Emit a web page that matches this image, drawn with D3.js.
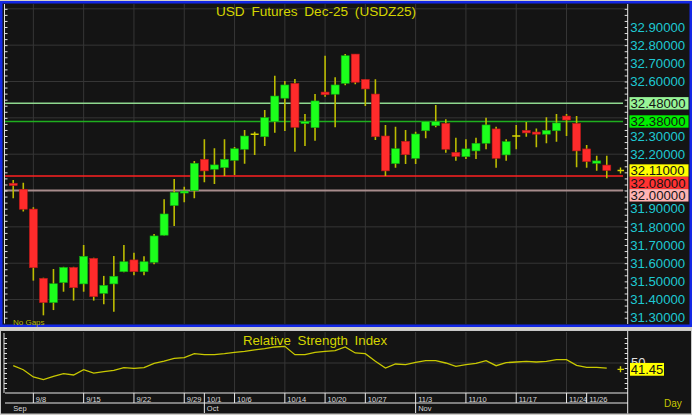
<!DOCTYPE html>
<html><head><meta charset="utf-8">
<script src="https://cdn.jsdelivr.net/npm/d3@7"></script>
<style>
html,body{margin:0;padding:0;background:#d4d0c8;}
svg{display:block;font-family:"Liberation Sans",Arial,sans-serif;}
</style></head><body>
<svg id="c" width="692" height="415"></svg>
<script>
// ---------------- DATA ----------------
const dates = ["9/4","9/5","9/8","9/9","9/10","9/11","9/12","9/15","9/16","9/17","9/18","9/19","9/22","9/23","9/24","9/25","9/26","9/29","9/30",
"10/1","10/2","10/3","10/6","10/7","10/8","10/9","10/10","10/14","10/15","10/16","10/17","10/20","10/21","10/22","10/23","10/27","10/28","10/29","10/30","10/31",
"11/3","11/4","11/5","11/6","11/7","11/10","11/11","11/12","11/13","11/14","11/17","11/18","11/19","11/20","11/21","11/24","11/25","11/26","11/27","11/28"];
const open  = [32.040,32.007,31.898,31.517,31.383,31.493,31.577,31.486,31.627,31.434,31.486,31.553,31.618,31.553,31.605,31.754,31.917,31.986,31.999,
32.172,32.117,32.126,32.166,32.227,32.310,32.296,32.379,32.508,32.590,32.368,32.346,32.542,32.530,32.590,32.751,32.612,32.531,32.300,32.148,32.271,
32.177,32.329,32.357,32.370,32.210,32.186,32.218,32.260,32.339,32.196,32.300,32.331,32.322,32.310,32.329,32.410,32.370,32.229,32.150,32.140];
const high  = [32.058,32.043,31.908,31.520,31.568,31.580,31.580,31.700,31.630,31.530,31.640,31.700,31.658,31.638,31.761,31.952,32.063,32.021,32.163,
32.282,32.232,32.282,32.240,32.333,32.324,32.443,32.632,32.603,32.614,32.421,32.531,32.742,32.623,32.751,32.752,32.612,32.612,32.361,32.351,32.333,
32.324,32.379,32.471,32.392,32.291,32.282,32.291,32.401,32.351,32.282,32.361,32.377,32.342,32.403,32.421,32.421,32.410,32.251,32.192,32.192];
const low   = [31.957,31.884,31.504,31.313,31.342,31.443,31.394,31.443,31.394,31.374,31.333,31.550,31.533,31.533,31.594,31.752,31.805,31.935,31.957,
32.045,32.036,32.080,32.085,32.148,32.196,32.245,32.318,32.328,32.214,32.245,32.274,32.516,32.348,32.579,32.585,32.465,32.278,32.080,32.126,32.146,
32.146,32.287,32.348,32.208,32.164,32.174,32.174,32.227,32.126,32.164,32.227,32.296,32.238,32.260,32.269,32.300,32.128,32.126,32.109,32.067];
const close = [32.027,31.897,31.575,31.383,31.487,31.577,31.465,31.638,31.416,31.478,31.528,31.608,31.553,31.608,31.750,31.871,31.990,31.997,32.150,
32.108,32.141,32.172,32.230,32.300,32.310,32.401,32.520,32.581,32.348,32.379,32.493,32.527,32.581,32.742,32.596,32.559,32.296,32.108,32.230,32.197,
32.311,32.379,32.379,32.227,32.188,32.229,32.260,32.361,32.177,32.269,32.300,32.317,32.310,32.331,32.372,32.388,32.218,32.159,32.163,32.110];
const rsi = [45.5,38.8,26.7,22.2,27.8,32.2,30.0,38.8,33.3,35.5,37.8,42.2,41.1,42.2,49.4,53.3,57.8,58.9,65.6,
63.9,63.9,65.6,67.8,69.4,71.7,73.9,76.7,77.8,63.9,63.9,67.8,69.4,70.6,76.7,66.7,65.6,52.8,41.7,48.3,47.2,
51.1,53.9,53.9,50.0,44.4,47.2,49.4,53.9,45.5,50.6,51.7,52.8,51.7,52.8,55.6,55.6,46.1,42.8,42.8,41.45];
const priceLabels = [32.9,32.8,32.7,32.6,32.5,32.4,32.3,32.2,32.1,32.0,31.9,31.8,31.7,31.6,31.5,31.4,31.3];
const priceGrid = [33.0,32.8,32.6,32.4,32.2,32.0,31.8,31.6,31.4];
const gridDates = ["9/8","9/15","9/22","9/29","10/6","10/14","10/20","10/27","11/3","11/10","11/17","11/24"];
const dateLabels = ["9/8","9/15","9/22","9/29","10/1","10/6","10/14","10/20","10/27","11/3","11/10","11/17","11/24","11/26"];
const monthStarts = ["9/4","10/1","11/3"];
const monthNames = ["Sep","Oct","Nov"];
const levelValues = [32.48, 32.38, 32.11, 32.08, 32.00];
const lastPrice = 32.11;
const lastRsi = 41.45;
const rsiGridValues = [50];
const title = "USD Futures Dec-25 (USDZ25)";
const rsiTitle = "Relative Strength Index";

// ---------------- STYLE ----------------
const levelLine = ["#8fd88f","#1fae1f",null,"#ff2020","#a88c8c"];
const levelBox  = ["#98f598","#00ee00","#ffff00","#ff3232","#ffb3b3"];
const YEL = "#d4d400", WICK = "#bcbc00", GRID = "#363636", UP = "#1cff1c", DN = "#ff2b2b", CYAN = "#1ec8d2";

const svg = d3.select("#c");
const x = d3.scaleBand().domain(dates).range([8.2, 611.8]);
const cx = d => x(d) + x.bandwidth()/2;
const y = d3.scaleLinear().domain([31.3, 32.9]).range([317.7, 27]);
const yr = d3.scaleLinear().domain([0, 100]).range([393, 333]);

// ---------- MAIN PANEL ----------
svg.append("rect").attr("x",1.25).attr("y",2.25).attr("width",689.5).attr("height",323.5)
  .attr("fill","#141414").attr("stroke","#1428e6").attr("stroke-width",2.5);

svg.append("clipPath").attr("id","pc").append("rect").attr("x",4).attr("y",4).attr("width",623.5).attr("height",320);
const plot = svg.append("g").attr("clip-path","url(#pc)");

plot.selectAll(".hg").data(priceGrid).enter().append("line")
  .attr("x1",5).attr("x2",627).attr("y1",d=>y(d)).attr("y2",d=>y(d)).attr("stroke",GRID);
plot.selectAll(".vg").data(gridDates).enter().append("line")
  .attr("x1",cx).attr("x2",cx).attr("y1",4).attr("y2",324).attr("stroke",GRID);

levelValues.forEach((v,i)=>{
  if(!levelLine[i]) return;
  plot.append("line").attr("x1",5).attr("x2",623).attr("y1",y(v)).attr("y2",y(v))
    .attr("stroke",levelLine[i]).attr("stroke-width", i===4?2:1.5);
});

// candles
const idx = d3.range(dates.length);
plot.selectAll(".wick").data(idx).enter().append("line")
  .attr("x1",i=>cx(dates[i])).attr("x2",i=>cx(dates[i]))
  .attr("y1",i=>y(high[i])).attr("y2",i=>y(low[i]))
  .attr("stroke",WICK).attr("stroke-width",1.6);
const bw = x.bandwidth()*0.8;
plot.selectAll(".body").data(idx.filter(i=>open[i]!==close[i])).enter().append("rect")
  .attr("x",i=>cx(dates[i])-bw/2).attr("width",bw)
  .attr("y",i=>y(Math.max(open[i],close[i])))
  .attr("height",i=>Math.max(2, Math.abs(y(open[i])-y(close[i]))))
  .attr("fill",i=>close[i]>open[i]?UP:DN)
  .attr("stroke",i=>close[i]>open[i]?"#12a012":"#b01818").attr("stroke-width",0.6);
plot.selectAll(".doji").data(idx.filter(i=>open[i]===close[i])).enter().append("line")
  .attr("x1",i=>cx(dates[i])-bw/2).attr("x2",i=>cx(dates[i])+bw/2)
  .attr("y1",i=>y(close[i])).attr("y2",i=>y(close[i]))
  .attr("stroke",YEL).attr("stroke-width",1.6);

// minor ticks
const minor = d3.range(0,60).map(k=>+(31.2 + k*0.1/3).toFixed(4)).filter(v=>y(v)>5 && y(v)<323);
const la = svg.append("g").attr("transform","translate(4.5,0)")
  .call(d3.axisRight(y).tickValues(minor).tickSize(3).tickFormat(""));
la.select(".domain").remove();
la.selectAll("line").attr("stroke","#e0e0e0");
svg.append("line").attr("x1",4.5).attr("x2",4.5).attr("y1",4).attr("y2",323.5).attr("stroke","#e0e0e0");

const ra = svg.append("g").attr("transform","translate(627.7,0)")
  .call(d3.axisLeft(y).tickValues(minor).tickSize(3).tickFormat(""));
ra.select(".domain").remove();
ra.selectAll("line").attr("stroke","#e0e0e0");
svg.append("line").attr("x1",627.7).attr("x2",627.7).attr("y1",4).attr("y2",324).attr("stroke","#e8e8e8");

// level box positions (stacked so they do not overlap)
const BH = 12.4;
let prevY = -1e9;
const boxes = levelValues.map((v,i)=>({v,i})).sort((a,b)=>b.v-a.v).map(o=>{
  let yy = y(o.v);
  if (yy - prevY < BH) yy = prevY + BH;
  prevY = yy;
  return {...o, yy};
});

// price labels: skip those fully hidden beneath a level box
const visibleLabels = priceLabels.filter(p => !boxes.some(b => Math.abs(b.yy - y(p)) < 5));
const pl = svg.append("g").attr("transform","translate(627.7,0)")
  .call(d3.axisRight(y).tickValues(visibleLabels).tickSize(0).tickPadding(2.5).tickFormat(d3.format(".5f")));
pl.select(".domain").remove();
pl.selectAll("text").attr("fill",CYAN).style("font-size","13.2px").style("font-family","'Liberation Sans',Arial,sans-serif");

boxes.forEach(o=>{
  svg.append("rect").attr("x",629.5).attr("y",o.yy-BH/2).attr("width",59).attr("height",BH)
    .attr("fill",levelBox[o.i]);
  svg.append("text").attr("x",630.5).attr("y",o.yy).attr("dy","0.35em")
    .attr("fill","#141414").style("font-size","13.2px").text(d3.format(".5f")(o.v));
});

const lpY = y(lastPrice);
svg.append("path").attr("d",`M617.5,${lpY}h6.5M620.5,${lpY-3}v6`).attr("stroke",YEL).attr("stroke-width",1.4);

svg.append("text").attr("x",316).attr("y",11).attr("dy","0.35em").attr("text-anchor","middle")
  .attr("fill",YEL).style("font-size","13.6px").style("word-spacing","3px").text(title);
svg.append("text").attr("x",13).attr("y",325).attr("fill","#b8b800").style("font-size","8px").text("No Gaps");

// ---------- RSI PANEL ----------
svg.append("rect").attr("x",0.5).attr("y",330.5).attr("width",691).attr("height",83.5)
  .attr("fill","#141414").attr("stroke","#c8c8c8");

svg.selectAll(".rg").data(rsiGridValues).enter().append("line")
  .attr("x1",5).attr("x2",627).attr("y1",d=>yr(d)).attr("y2",d=>yr(d)).attr("stroke",GRID);
svg.selectAll(".rvg").data(gridDates).enter().append("line")
  .attr("x1",cx).attr("x2",cx).attr("y1",332).attr("y2",393).attr("stroke",GRID);

const rminor = d3.range(0,13).map(k=>k*100/12).filter(v=>yr(v)>334 && yr(v)<392);
const rla = svg.append("g").attr("transform","translate(4,0)")
  .call(d3.axisRight(yr).tickValues(rminor).tickSize(3).tickFormat(""));
rla.select(".domain").remove();
rla.selectAll("line").attr("stroke","#e0e0e0");
svg.append("line").attr("x1",4).attr("x2",4).attr("y1",333).attr("y2",393).attr("stroke","#e0e0e0");
const rra = svg.append("g").attr("transform","translate(627.7,0)")
  .call(d3.axisLeft(yr).tickValues(rminor).tickSize(3).tickFormat(""));
rra.select(".domain").remove();
rra.selectAll("line").attr("stroke","#e0e0e0");

svg.append("path").datum(idx)
  .attr("d", d3.line().x(i=>cx(dates[i])).y(i=>yr(rsi[i])))
  .attr("fill","none").attr("stroke","#c8c800").attr("stroke-width",1.3);

svg.append("text").attr("x",315).attr("y",340).attr("dy","0.35em").attr("text-anchor","middle")
  .attr("fill",YEL).style("font-size","13.3px").style("word-spacing","3px").text(rsiTitle);

svg.append("text").attr("x",631).attr("y",yr(50)-1).attr("dy","0.35em").attr("fill","#e0e0e0")
  .style("font-size","13px").text("50");
const ly = yr(lastRsi)+1.2;
svg.append("rect").attr("x",630).attr("y",ly-6.4).attr("width",34).attr("height",12.8).attr("fill","#ffff00");
svg.append("text").attr("x",630.8).attr("y",ly).attr("dy","0.35em").attr("fill","#141414")
  .style("font-size","13px").text(d3.format(".2f")(lastRsi));
svg.append("path").attr("d",`M617.5,${ly}h6.5M620.5,${ly-3}v6`).attr("stroke",YEL).attr("stroke-width",1.4);

svg.append("line").attr("x1",5).attr("x2",628).attr("y1",393).attr("y2",393).attr("stroke","#e8e8e8");
svg.append("line").attr("x1",5).attr("x2",628).attr("y1",403).attr("y2",403).attr("stroke","#e8e8e8");
svg.append("line").attr("x1",627.7).attr("x2",627.7).attr("y1",331).attr("y2",413.5).attr("stroke","#e8e8e8");

const da = svg.append("g").attr("transform","translate(0,393)")
  .call(d3.axisBottom(x).tickValues(dateLabels).tickSize(10).tickFormat(d=>d));
da.select(".domain").remove();
da.selectAll("line").attr("stroke","#e8e8e8");
da.selectAll("text").attr("x",2.5).attr("y",8.5).attr("dy",0).attr("text-anchor","start")
  .attr("fill","#d8d8d8").style("font-size","7.5px").style("font-family","'Liberation Sans',Arial,sans-serif");

const ma = svg.append("g").attr("transform","translate(0,403)")
  .call(d3.axisBottom(x).tickValues(monthStarts).tickSize(10).tickFormat((d,i)=>monthNames[i]));
ma.select(".domain").remove();
ma.selectAll("line").attr("stroke",(d,i)=>i===0?"none":"#e8e8e8");
ma.selectAll("text").attr("x",(d,i)=>i===0?0:2.5).attr("y",8).attr("dy",0).attr("text-anchor","start")
  .attr("fill","#d8d8d8").style("font-size","7.5px").style("font-family","'Liberation Sans',Arial,sans-serif");

svg.append("text").attr("x",664).attr("y",407).attr("fill","#c8c800").style("font-size","10px").text("Day");
</script>
</body></html>
